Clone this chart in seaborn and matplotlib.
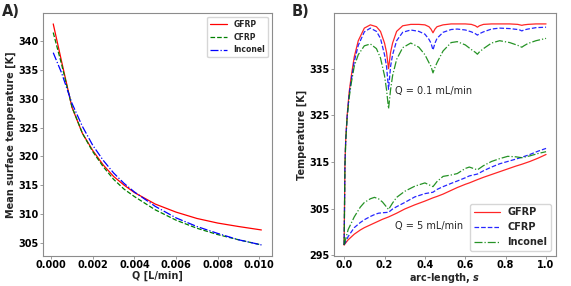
import numpy as np
import pandas as pd
import matplotlib
matplotlib.use("Agg")
import matplotlib.pyplot as plt
import seaborn as sns

sns.set_style("ticks", {"axes.edgecolor": "0.55", "xtick.color": "0.55", "ytick.color": "0.55"})
plt.rcParams["font.family"] = ["DejaVu Sans"]
plt.rcParams["xtick.labelcolor"] = "black"
plt.rcParams["ytick.labelcolor"] = "black"

# Panel A: mean surface temperature vs flow rate
q_flow = [0.0001, 0.0005, 0.001, 0.0015, 0.002, 0.0025, 0.003, 0.0035, 0.004,
          0.005, 0.006, 0.007, 0.008, 0.009, 0.0101]
a_gfrp = [343.0, 336.5, 328.5, 324.0, 321.0, 318.5, 316.5, 315.0, 313.7,
          311.7, 310.3, 309.2, 308.4, 307.8, 307.2]
a_cfrp = [341.5, 336.0, 328.6, 324.0, 320.8, 318.2, 316.0, 314.3, 313.0,
          310.7, 308.9, 307.5, 306.4, 305.5, 304.6]
a_inconel = [338.0, 334.5, 329.2, 325.2, 321.9, 319.3, 317.1, 315.3, 313.8,
             311.3, 309.3, 307.8, 306.6, 305.5, 304.6]

# Panel B: temperature along the arc length
s_low = [0.0, 0.004, 0.008, 0.015, 0.025, 0.035, 0.05, 0.07, 0.1, 0.13, 0.16, 0.18, 0.2, 0.21, 0.22,
         0.23, 0.24, 0.26, 0.29, 0.33, 0.37, 0.4, 0.42, 0.43, 0.44, 0.45, 0.46, 0.49, 0.53,
         0.56, 0.6, 0.63, 0.65, 0.66, 0.67, 0.69, 0.73, 0.77, 0.82, 0.86, 0.87, 0.88, 0.89,
         0.91, 0.95, 1.0]
b_gfrp_low = [297.2, 314.5, 320.0, 325.0, 330.0, 333.3, 337.5, 341.0, 343.7, 344.4, 344.0, 343.0, 340.5, 338.5, 335.0,
              338.5, 340.5, 343.0, 344.2, 344.5, 344.5, 344.4, 344.0, 343.5, 342.7, 343.5, 344.0, 344.4, 344.6,
              344.6, 344.6, 344.5, 344.2, 343.9, 344.2, 344.5, 344.6, 344.6, 344.6, 344.5, 344.4, 344.3, 344.4,
              344.5, 344.6, 344.6]
b_cfrp_low = [297.2, 314.3, 319.8, 324.8, 329.5, 332.5, 336.5, 340.0, 342.9, 343.7, 343.0, 341.5, 338.0, 335.5, 330.6,
              335.5, 338.0, 341.0, 342.8, 343.3, 343.0, 342.4, 341.3, 340.5, 339.0, 340.5, 341.5, 342.8, 343.4,
              343.5, 343.3, 342.9, 342.5, 342.2, 342.5, 342.9, 343.5, 343.7, 343.6, 343.4, 343.3, 343.1, 343.3,
              343.5, 343.8, 343.9]
b_inconel_low = [297.2, 314.0, 319.5, 324.5, 328.8, 331.8, 335.5, 338.0, 339.9, 340.3, 339.3, 337.3, 333.5, 330.5, 326.4,
                 330.5, 333.5, 337.0, 339.5, 340.5, 339.6, 338.0, 336.3, 335.5, 334.1, 335.3, 336.3, 338.8, 340.6,
                 340.8, 340.1, 339.1, 338.5, 338.1, 338.6, 339.3, 340.5, 341.0, 340.6, 340.0, 339.8, 339.6, 339.9,
                 340.4, 341.0, 341.5]

s_high = [0.0, 0.02, 0.05, 0.08, 0.1, 0.13, 0.15, 0.17, 0.19, 0.22, 0.24, 0.26, 0.3, 0.35, 0.4, 0.44,
          0.46, 0.49, 0.53, 0.56, 0.6, 0.62, 0.66, 0.69, 0.73, 0.77, 0.81, 0.85, 0.88, 0.92, 0.96, 1.0]
b_gfrp_high = [297.2, 298.3, 299.5, 300.4, 300.9, 301.5, 301.9, 302.3, 302.7, 303.2, 303.6, 304.0, 304.9, 305.8,
               306.6, 307.3, 307.6, 308.1, 308.9, 309.5, 310.2, 310.5, 311.2, 311.7, 312.3, 312.9, 313.5, 314.1,
               314.5, 315.1, 315.8, 316.6]
b_cfrp_high = [297.2, 299.0, 300.9, 302.0, 302.6, 303.3, 303.7, 304.0, 304.1, 304.2, 304.9, 305.4, 306.3, 307.5,
               308.2, 308.5, 309.1, 309.7, 310.4, 310.9, 311.6, 312.0, 312.4, 313.1, 313.9, 314.6, 315.1, 315.6,
               316.0, 316.6, 317.3, 317.9]
b_inconel_high = [297.2, 300.5, 303.2, 305.3, 306.3, 307.1, 307.4, 307.1, 306.4, 304.8, 306.2, 307.4, 308.7, 309.8,
                  310.5, 309.7, 310.8, 311.9, 312.2, 312.5, 313.6, 313.9, 313.3, 314.2, 315.1, 315.7, 316.2, 316.1,
                  315.9, 316.3, 316.8, 317.2]

fig = plt.figure(figsize=(5.71, 2.86), dpi=100)
ax1 = fig.add_axes([0.075, 0.105, 0.401, 0.85])
ax2 = fig.add_axes([0.585, 0.105, 0.389, 0.85])

sns.lineplot(x=q_flow, y=a_gfrp, ax=ax1, color="red", linestyle="-", lw=0.9, label="GFRP")
sns.lineplot(x=q_flow, y=a_cfrp, ax=ax1, color="green", linestyle="--", lw=0.9, label="CFRP")
sns.lineplot(x=q_flow, y=a_inconel, ax=ax1, color="blue", linestyle="-.", lw=0.9, label="Inconel")
ax1.set_xlabel("Q [L/min]", fontsize=7, fontweight="bold", labelpad=0.5)
ax1.set_ylabel("Mean surface temperature [K]", fontsize=7, fontweight="bold", labelpad=2)
ax1.set_xticks([0.0, 0.002, 0.004, 0.006, 0.008, 0.010])
ax1.set_xticklabels(["0.000", "0.002", "0.004", "0.006", "0.008", "0.010"])
ax1.set_yticks([305, 310, 315, 320, 325, 330, 335, 340])
ax1.legend(loc="upper right", prop={"weight": "bold", "size": 5.5}, handlelength=2.2, frameon=True)

sns.lineplot(x=s_low, y=b_gfrp_low, ax=ax2, color="red", linestyle="-", lw=0.9, alpha=0.85, label="GFRP")
sns.lineplot(x=s_low, y=b_cfrp_low, ax=ax2, color="blue", linestyle="--", lw=0.9, alpha=0.85, label="CFRP")
sns.lineplot(x=s_low, y=b_inconel_low, ax=ax2, color="green", linestyle="-.", lw=0.9, alpha=0.85, label="Inconel")
sns.lineplot(x=s_high, y=b_gfrp_high, ax=ax2, color="red", linestyle="-", lw=0.9, alpha=0.85)
sns.lineplot(x=s_high, y=b_cfrp_high, ax=ax2, color="blue", linestyle="--", lw=0.9, alpha=0.85)
sns.lineplot(x=s_high, y=b_inconel_high, ax=ax2, color="green", linestyle="-.", lw=0.9, alpha=0.85)
ax2.text(0.253, 330.2, "Q = 0.1 mL/min", fontsize=7, va="center", ha="left")
ax2.text(0.253, 301.3, "Q = 5 mL/min", fontsize=7, va="center", ha="left")
ax2.set_xlabel(r"arc-length, $\boldsymbol{s}$", fontsize=7, fontweight="bold", labelpad=0.5)
ax2.set_ylabel("Temperature [K]", fontsize=7, fontweight="bold", labelpad=2)
ax2.set_xticks([0.0, 0.2, 0.4, 0.6, 0.8, 1.0])
ax2.set_yticks([295, 305, 315, 325, 335])
ax2.legend(loc="lower right", prop={"weight": "bold", "size": 7}, handlelength=2.6, frameon=True)

for ax in (ax1, ax2):
    ax.tick_params(labelsize=7, length=2, width=0.6, pad=1)
    for lab in ax.get_xticklabels() + ax.get_yticklabels():
        lab.set_fontweight("bold")
    for sp in ax.spines.values():
        sp.set_linewidth(0.8)

fig.text(0.004, 0.985, "A)", fontsize=10.5, fontweight="bold", va="top", ha="left")
fig.text(0.51, 0.985, "B)", fontsize=10.5, fontweight="bold", va="top", ha="left")

fig.savefig("out.png", dpi=100)
